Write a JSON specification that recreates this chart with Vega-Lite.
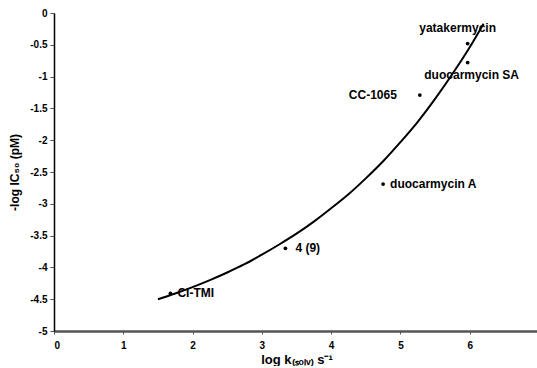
{
  "$schema": "https://vega.github.io/schema/vega-lite/v6.json",
  "width": 485,
  "height": 318,
  "padding": {"left": 8, "top": 8, "right": 0, "bottom": 0},
  "background": "white",
  "config": {"view": {"stroke": null}, "font": "Liberation Sans"},
  "datasets": {
    "curve": [
      {"x": 1.5, "y": -4.5}, {"x": 1.75, "y": -4.41}, {"x": 2.0, "y": -4.31}, {"x": 2.25, "y": -4.2},
      {"x": 2.5, "y": -4.08}, {"x": 2.75, "y": -3.95}, {"x": 3.0, "y": -3.8}, {"x": 3.25, "y": -3.64},
      {"x": 3.5, "y": -3.47}, {"x": 3.75, "y": -3.28}, {"x": 4.0, "y": -3.07}, {"x": 4.25, "y": -2.85},
      {"x": 4.5, "y": -2.6}, {"x": 4.75, "y": -2.33}, {"x": 5.0, "y": -2.03}, {"x": 5.25, "y": -1.71},
      {"x": 5.5, "y": -1.35}, {"x": 5.75, "y": -0.96}, {"x": 6.0, "y": -0.54}, {"x": 6.2, "y": -0.17}
    ],
    "points": [
      {"name": "yatakermycin", "x": 5.97, "y": -0.48},
      {"name": "duocarmycin SA", "x": 5.97, "y": -0.78},
      {"name": "CC-1065", "x": 5.28, "y": -1.29},
      {"name": "duocarmycin A", "x": 4.75, "y": -2.69},
      {"name": "4 (9)", "x": 3.34, "y": -3.7},
      {"name": "CI-TMI", "x": 1.68, "y": -4.41}
    ]
  },
  "encoding": {
    "x": {
      "field": "x", "type": "quantitative",
      "scale": {"domain": [0, 7], "nice": false},
      "axis": {
        "title": "log k₍ₛₒₗᵥ₎ s⁻¹",
        "titleFont": "Liberation Sans", "titleFontSize": 13, "titleFontWeight": "bold", "titleColor": "black",
        "titlePadding": 3,
        "values": [0, 1, 2, 3, 4, 5, 6],
        "labelFont": "Liberation Sans", "labelFontSize": 10, "labelFontWeight": "bold", "labelColor": "black",
        "labelPadding": 6, "grid": false,
        "domainColor": "#555555", "domainWidth": 2.5,
        "tickColor": "#555555", "tickSize": 3, "tickWidth": 1
      }
    },
    "y": {
      "field": "y", "type": "quantitative",
      "scale": {"domain": [-5, 0], "nice": false},
      "axis": {
        "title": "-log IC₅₀ (pM)",
        "titleFont": "Liberation Sans", "titleFontSize": 12, "titleFontWeight": "bold", "titleColor": "black",
        "titlePadding": 8,
        "values": [-5, -4.5, -4, -3.5, -3, -2.5, -2, -1.5, -1, -0.5, 0],
        "labelExpr": "'' + datum.value",
        "labelFont": "Liberation Sans", "labelFontSize": 10, "labelFontWeight": "bold", "labelColor": "black",
        "labelPadding": 3, "grid": false,
        "domainColor": "black", "domainWidth": 1.5,
        "tickColor": "#555555", "tickSize": 4, "tickWidth": 1
      }
    }
  },
  "layer": [
    {
      "data": {"name": "curve"},
      "mark": {"type": "line", "color": "black", "strokeWidth": 2, "interpolate": "monotone"}
    },
    {
      "data": {"name": "points"},
      "mark": {"type": "circle", "color": "black", "size": 14, "opacity": 1}
    },
    {
      "data": {"name": "points"},
      "transform": [{"filter": "datum.name === 'duocarmycin A' || datum.name === 'CI-TMI'"}],
      "mark": {"type": "text", "align": "left", "baseline": "middle", "dx": 7, "fontSize": 12, "fontWeight": "bold", "font": "Liberation Sans", "color": "black"},
      "encoding": {"text": {"field": "name"}}
    },
    {
      "data": {"name": "points"},
      "transform": [{"filter": "datum.name === '4 (9)'"}],
      "mark": {"type": "text", "align": "left", "baseline": "middle", "dx": 10, "fontSize": 12, "fontWeight": "bold", "font": "Liberation Sans", "color": "black"},
      "encoding": {"text": {"field": "name"}}
    },
    {
      "data": {"name": "points"},
      "transform": [{"filter": "datum.name === 'CC-1065'"}],
      "mark": {"type": "text", "align": "right", "baseline": "middle", "dx": -23, "fontSize": 12, "fontWeight": "bold", "font": "Liberation Sans", "color": "black"},
      "encoding": {"text": {"field": "name"}}
    },
    {
      "data": {"name": "points"},
      "transform": [{"filter": "datum.name === 'yatakermycin'"}],
      "mark": {"type": "text", "align": "center", "baseline": "middle", "dx": -10, "dy": -16, "fontSize": 12, "fontWeight": "bold", "font": "Liberation Sans", "color": "black"},
      "encoding": {"text": {"field": "name"}}
    },
    {
      "data": {"name": "points"},
      "transform": [{"filter": "datum.name === 'duocarmycin SA'"}],
      "mark": {"type": "text", "align": "center", "baseline": "middle", "dx": 4, "dy": 12, "fontSize": 12, "fontWeight": "bold", "font": "Liberation Sans", "color": "black"},
      "encoding": {"text": {"field": "name"}}
    }
  ]
}
